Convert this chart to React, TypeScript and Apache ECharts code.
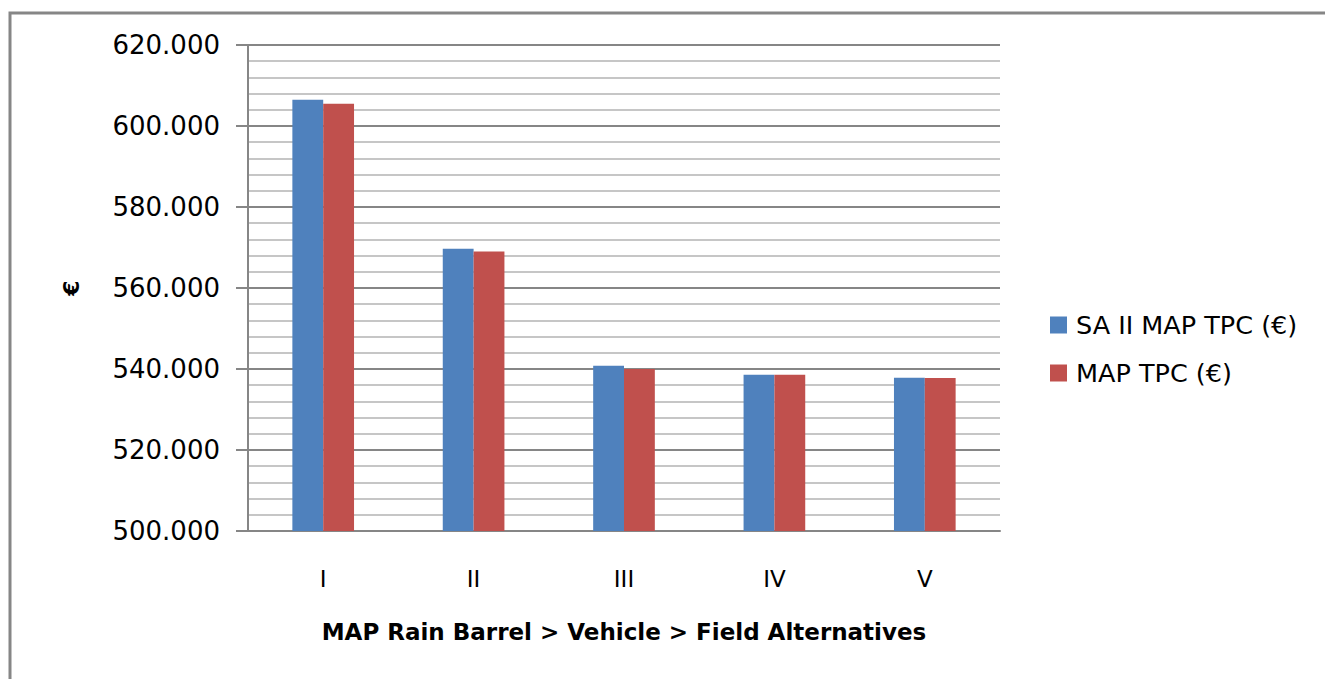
import React, { useEffect, useRef } from "react";
import * as echarts from "echarts";

const categories = ["I", "II", "III", "IV", "V"];
const seriesNames = ["SA II MAP TPC (€)", "MAP TPC (€)"];
const saValues = [606500, 569700, 540800, 538600, 537850];
const mapValues = [605500, 569000, 540000, 538550, 537800];
const xTitle = "MAP Rain Barrel > Vehicle > Field Alternatives";
const yTitle = "€";

const FONT = "DejaVu Sans";

function fmt(v: number): string {
  const s = Math.round(v).toString();
  return s.replace(/\B(?=(\d{3})+(?!\d))/g, ".");
}

export default function App() {
  const ref = useRef<HTMLDivElement>(null);
  useEffect(() => {
    document.body.style.margin = "0";
    const chart = echarts.init(ref.current!, null, { renderer: "svg" });
    chart.setOption({
      animation: false,
      backgroundColor: "#ffffff",
      graphic: [
        {
          type: "rect",
          shape: { x: 10, y: 13, width: 1330, height: 700 },
          style: { fill: "none", stroke: "#868686", lineWidth: 3 },
          z: 0,
        },
      ],
      grid: { left: 248, right: 325, top: 45, bottom: 148 },
      legend: {
        orient: "vertical",
        left: 1050,
        top: 312,
        padding: 0,
        itemWidth: 17,
        itemHeight: 17,
        itemGap: 22,
        icon: "rect",
        textStyle: { fontFamily: FONT, fontSize: 25.5, color: "#000", lineHeight: 26, padding: [0, 0, 0, 4] },
        data: seriesNames,
      },
      xAxis: {
        type: "category",
        data: categories,
        axisLine: { show: true, lineStyle: { color: "#868686", width: 2 } },
        axisTick: { show: false },
        axisLabel: { fontFamily: FONT, fontSize: 23, color: "#000", margin: 36 },
        name: xTitle,
        nameLocation: "middle",
        nameGap: 89,
        nameTextStyle: { fontFamily: FONT, fontSize: 23, fontWeight: "bold", color: "#000" },
      },
      yAxis: {
        type: "value",
        min: 500000,
        max: 620000,
        interval: 20000,
        name: yTitle,
        nameLocation: "middle",
        nameGap: 166,
        nameRotate: 90,
        nameTextStyle: { fontFamily: FONT, fontSize: 22, fontWeight: "bold", color: "#000" },
        axisLine: { show: true, lineStyle: { color: "#868686", width: 2 } },
        axisTick: { show: true, length: 12, lineStyle: { color: "#868686", width: 2 } },
        axisLabel: {
          fontFamily: FONT,
          fontSize: 26,
          color: "#000",
          margin: 28,
          formatter: (v: number) => fmt(v),
        },
        splitLine: { show: true, lineStyle: { color: "#868686", width: 2 } },
        minorTick: { show: false, splitNumber: 5 },
        minorSplitLine: { show: true, lineStyle: { color: "#b3b3b3", width: 1.5 } },
      },
      series: [
        {
          name: seriesNames[0],
          type: "bar",
          data: saValues,
          itemStyle: { color: "#4F81BD" },
          barGap: "0%",
          barCategoryGap: "59%",
        },
        {
          name: seriesNames[1],
          type: "bar",
          data: mapValues,
          itemStyle: { color: "#C0504D" },
          barGap: "0%",
          barCategoryGap: "59%",
        },
      ],
    });
    return () => chart.dispose();
  }, []);
  return <div ref={ref} style={{ width: 1325, height: 679 }} />;
}
